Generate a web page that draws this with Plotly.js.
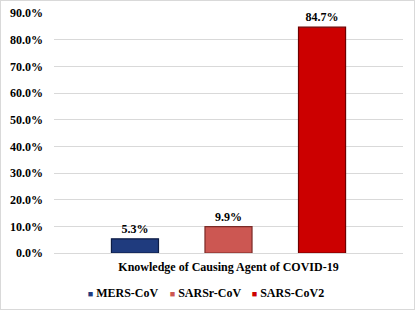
<!DOCTYPE html>
<html>
<head>
<meta charset="utf-8">
<script src="https://cdn.plot.ly/plotly-3.0.1.min.js"></script>
<style>
html,body{margin:0;padding:0;background:#fff;}
#chart{width:413px;height:308px;border:1px solid #d9d9d9;}
</style>
</head>
<body>
<div id="chart"></div>
<script>
const category = ["Knowledge of Causing Agent of COVID-19"];
const seriesNames = ["MERS-CoV", "SARSr-CoV", "SARS-CoV2"];
const mersValues = [5.3];
const sarsrValues = [9.9];
const sarsCov2Values = [84.7];
const yTickValues = [0, 10, 20, 30, 40, 50, 60, 70, 80, 90];

const fillColors = ["#1f3b7e", "#cc5752", "#cc0000"];
const edgeColors = ["#0e1d45", "#7a2a27", "#6e0000"];
const seriesValues = [mersValues, sarsrValues, sarsCov2Values];

const fam = "\"Times New Roman\", \"Liberation Serif\", serif";
const font = {family: fam, size: 12, color: "#000"};
const boldFont = {family: fam, size: 12, color: "#000", weight: "bold"};

const barTraces = seriesNames.map((name, i) => ({
  type: "bar",
  name: name,
  legendgroup: name,
  showlegend: false,
  x: category,
  y: seriesValues[i],
  text: seriesValues[i].map(v => v.toFixed(1) + "%"),
  textposition: "outside",
  textfont: boldFont,
  cliponaxis: false,
  marker: {color: fillColors[i], line: {color: edgeColors[i], width: 1.2}},
  hoverinfo: "name+y"
}));

// legend entries with small square swatches (as in the original)
const legendTraces = seriesNames.concat([" "]).map((name, i) => ({
  type: "scatter",
  mode: "markers",
  name: name === " " ? " " : '<span style="color:' + fillColors[i] + ';font-size:9px">■</span> ' + name,
  legendgroup: name,
  x: category,
  y: [null],
  marker: {size: 0, color: "rgba(0,0,0,0)", opacity: 0},
  hoverinfo: "skip"
}));

const layout = {
  width: 413, height: 308,
  margin: {l: 53, r: 11, t: 12, b: 56, autoexpand: false},
  paper_bgcolor: "#fff", plot_bgcolor: "#fff",
  font: font,
  barmode: "group",
  bargap: 0.196,
  bargroupgap: 0.497,
  showlegend: true,
  legend: {
    orientation: "h", x: -0.018, xanchor: "left", y: -0.163, yanchor: "middle",
    bgcolor: "rgba(0,0,0,0)",
    font: boldFont, traceorder: "normal", itemwidth: 30, entrywidth: 37
  },
  xaxis: {
    type: "category", automargin: false,
    showgrid: false, zeroline: false, showline: false,
    ticks: "", tickfont: boldFont, ticklabelstandoff: 5, fixedrange: true
  },
  yaxis: {
    range: [0, 90], tickvals: yTickValues, automargin: false,
    ticktext: yTickValues.map(v => v.toFixed(1) + "%"),
    showgrid: true, gridcolor: "#d9d9d9", gridwidth: 1,
    zeroline: true, zerolinecolor: "#d9d9d9", zerolinewidth: 1,
    showline: false, ticks: "", tickfont: boldFont,
    ticklabelstandoff: 10, fixedrange: true
  }
};

Plotly.newPlot("chart", barTraces.concat(legendTraces), layout, {displayModeBar: false, staticPlot: true});
</script>
</body>
</html>
